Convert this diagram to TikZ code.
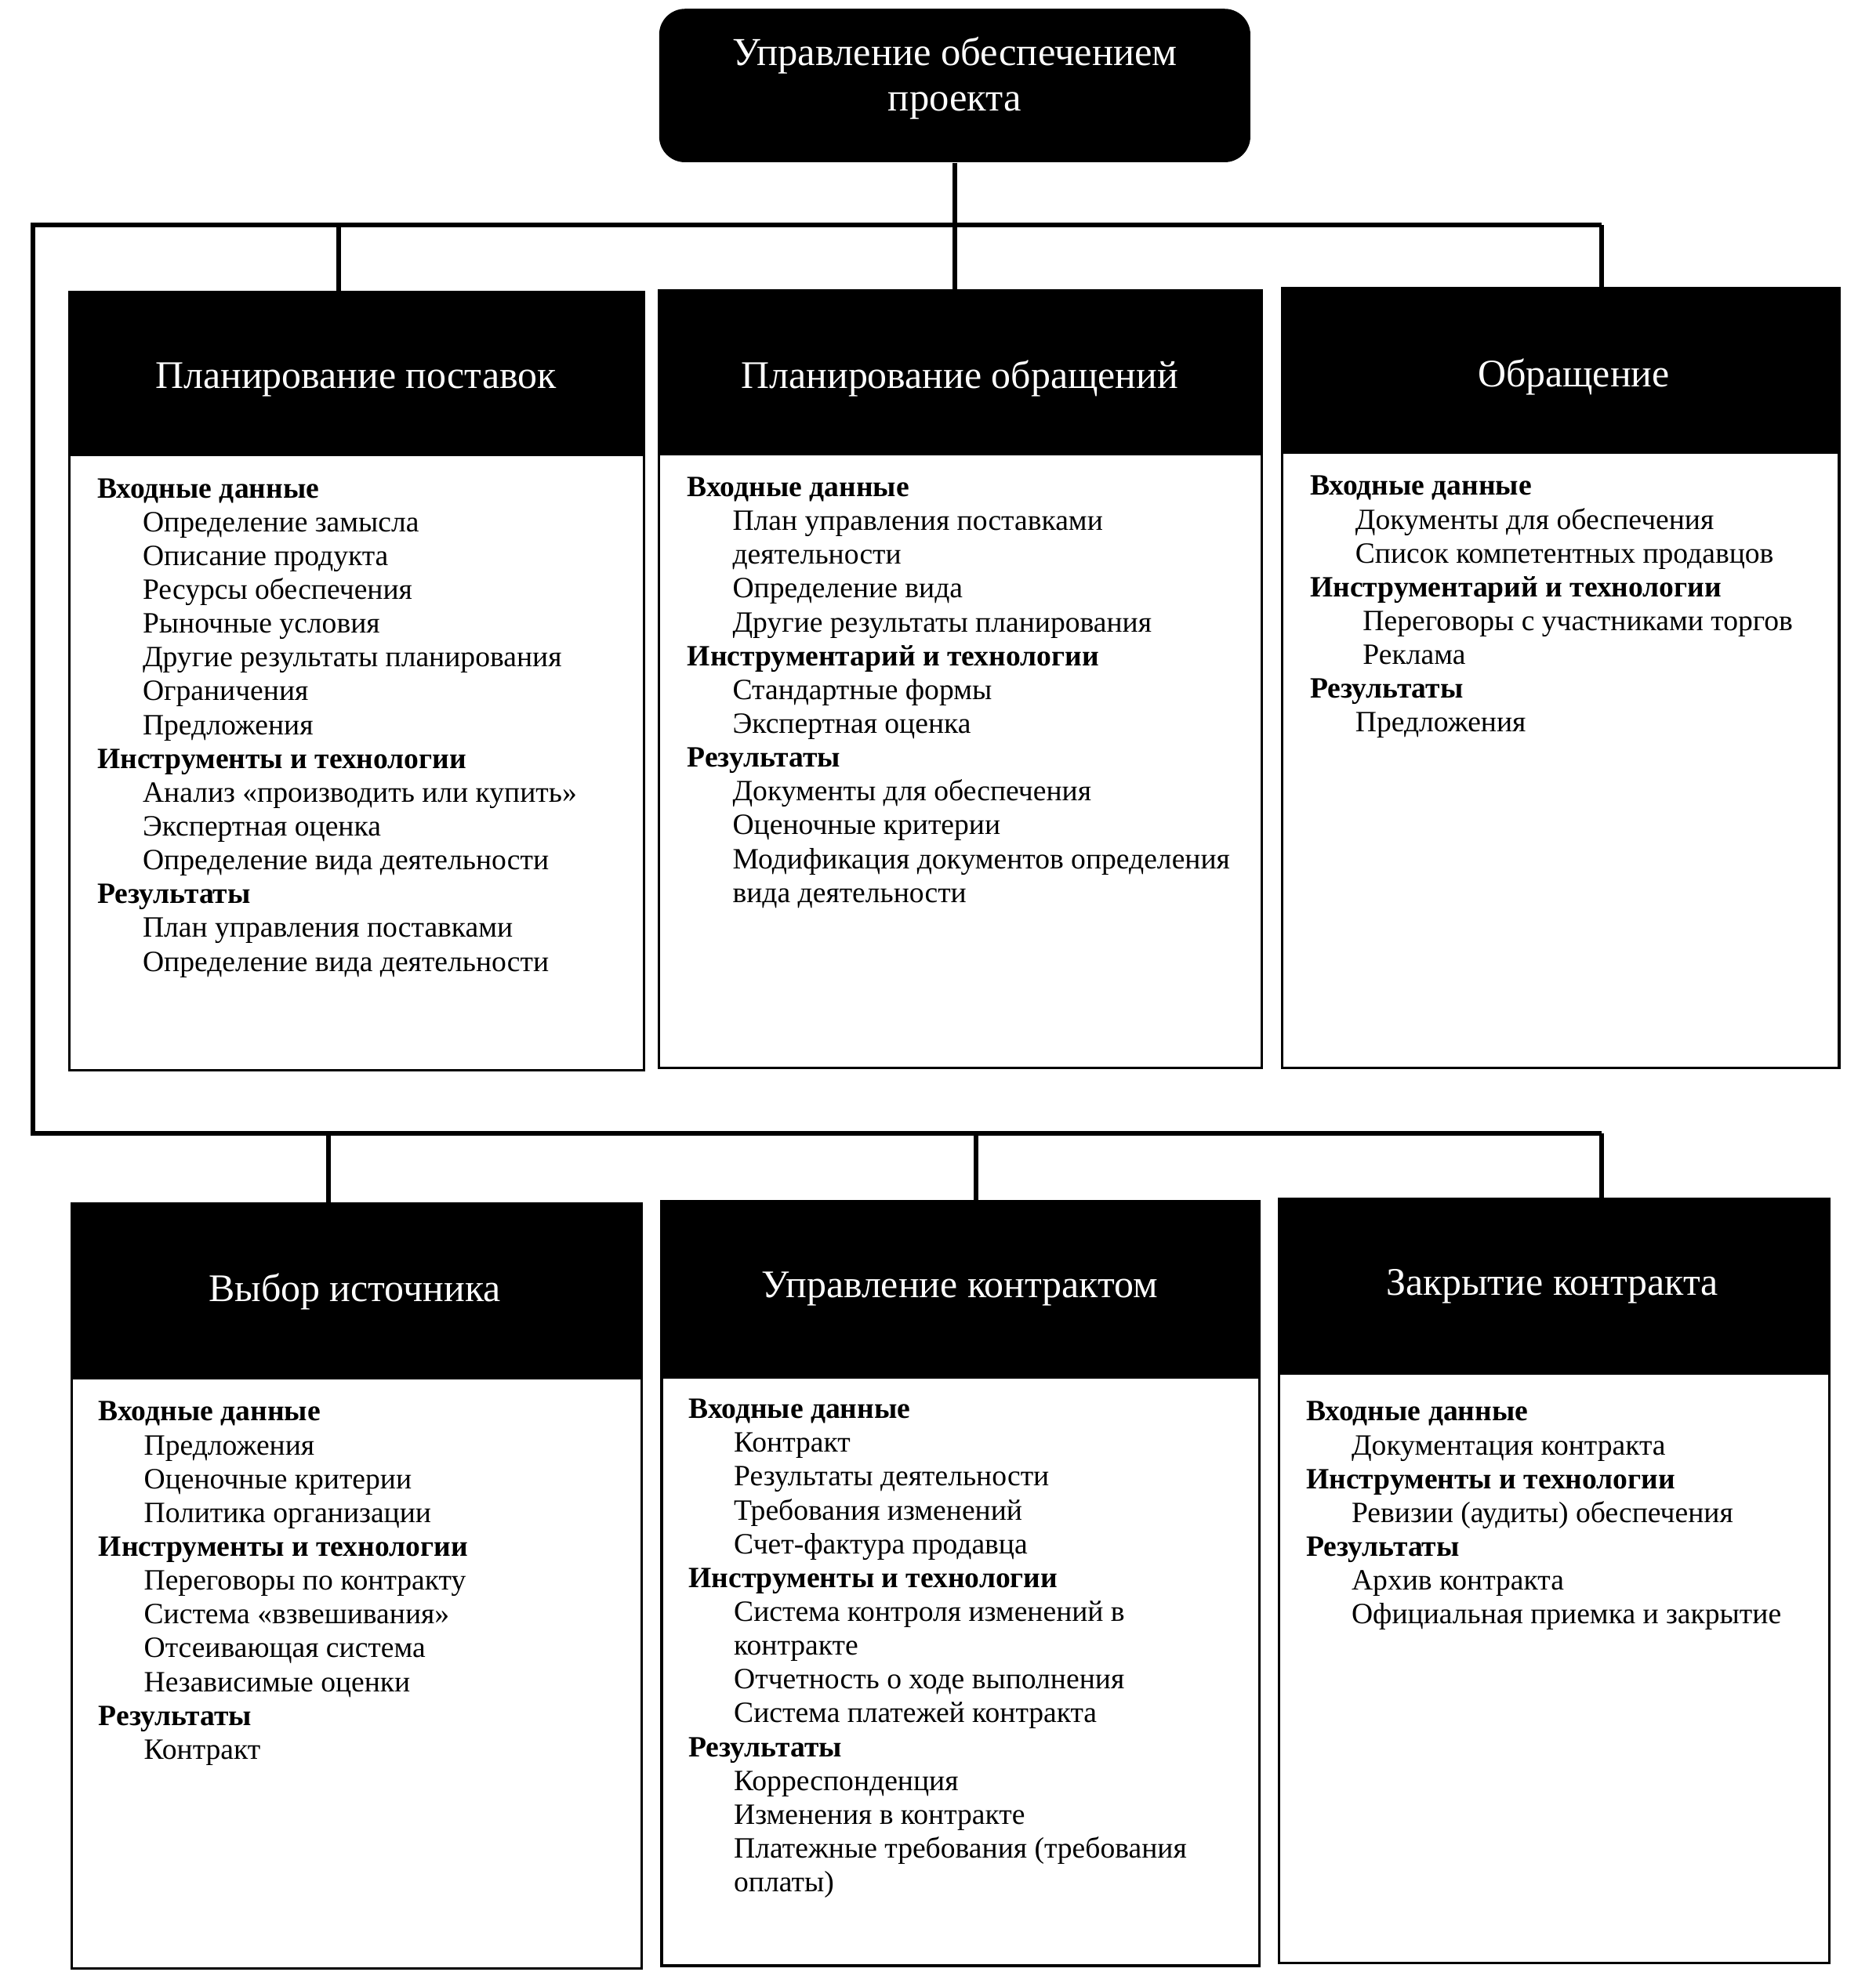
\documentclass[tikz,border=0pt]{standalone}
\usepackage{fontspec}
\setmainfont{Liberation Serif}
\usetikzlibrary{fit}
\newcommand{\indentitem}{\hspace*{0.578cm}}
\newcommand{\indentmore}{\hspace*{0.674cm}}
\tikzset{
  conn/.style={line width=1.7pt},
  frame/.style={draw, line width=0.9pt, inner sep=0pt},
  hdr/.style={fill=black, inner sep=0pt},
  title/.style={text=white, inner sep=0pt, font=\fontsize{14.2}{17}\selectfont},
  body/.style={anchor=north west, align=left, inner sep=0pt, font=\fontsize{10.7}{12.28}\selectfont},
}
\begin{document}
\begin{tikzpicture}[x=0.01605cm, y=-0.01605cm]
\useasboundingbox (0,0) rectangle (1491,1568);
% top
\node[fill=black, rounded corners=0.33cm, inner sep=0pt, fit={(524,7)(994,129)}] (top) {};
\node[text=white, align=center, font=\fontsize{14.4}{16.4}\selectfont] (toptxt) at (759,62) {Управление обеспечением\\проекта};

% boxes row 1
\node[frame, fit={(55,232)(512,851)}] (b1) {};
\node[hdr, fit={(55,232)(512,363)}] (h1) {};
\node[title] (n1) at (283,302) {Планирование поставок};
\node[frame, fit={(524,231)(1003,849)}] (b2) {};
\node[hdr, fit={(524,231)(1003,362)}] (h2) {};
\node[title] (n2) at (763,301) {Планирование обращений};
\node[frame, fit={(1019,229)(1462,849)}] (b3) {};
\node[hdr, fit={(1019,229)(1462,361)}] (h3) {};
\node[title] (n3) at (1251,300) {Обращение};
% boxes row 2
\node[frame, fit={(57,957)(510,1565)}] (b4) {};
\node[hdr, fit={(57,957)(510,1097)}] (h4) {};
\node[title] (n4) at (282,1027) {Выбор источника};
\node[frame, fit={(526,955)(1001,1563)}] (b5) {};
\node[hdr, fit={(526,955)(1001,1096)}] (h5) {};
\node[title] (n5) at (763,1025) {Управление контрактом};
\node[frame, fit={(1017,953)(1454,1561)}] (b6) {};
\node[hdr, fit={(1017,953)(1454,1093)}] (h6) {};
\node[title] (n6) at (1234,1023) {Закрытие контракта};

% connectors
\coordinate (jL) at (26,179);
\coordinate (j0) at (759,179);
\coordinate (j1) at (269,179);
\coordinate (jR) at (1273,179);
\coordinate (kL) at (26,901);
\coordinate (k4) at (261,901);
\coordinate (k5) at (776,901);
\coordinate (kR) at (1273,901);
\draw[conn] (top.south) -- (j0);
\draw[conn] (jR) -- (jL) -- (kL) -- (kR);
\draw[conn] (j1) -- (j1 |- h1.north);
\draw[conn] (j0) -- (j0 |- h2.north);
\draw[conn] (jR) -- (jR |- h3.north);
\draw[conn] (k4) -- (k4 |- h4.north);
\draw[conn] (k5) -- (k5 |- h5.north);
\draw[conn] (kR) -- (kR |- h6.north);

% body texts
\node[body] (t1) at (77,380) {\textbf{Входные данные}\\
\indentitem Определение замысла\\
\indentitem Описание продукта\\
\indentitem Ресурсы обеспечения\\
\indentitem Рыночные условия\\
\indentitem Другие результаты планирования\\
\indentitem Ограничения\\
\indentitem Предложения\\
\textbf{Инструменты и технологии}\\
\indentitem Анализ «производить или купить»\\
\indentitem Экспертная оценка\\
\indentitem Определение вида деятельности\\
\textbf{Результаты}\\
\indentitem План управления поставками\\
\indentitem Определение вида деятельности};

\node[body] (t2) at (546,379) {\textbf{Входные данные}\\
\indentitem План управления поставками\\
\indentitem деятельности\\
\indentitem Определение вида\\
\indentitem Другие результаты планирования\\
\textbf{Инструментарий и технологии}\\
\indentitem Стандартные формы\\
\indentitem Экспертная оценка\\
\textbf{Результаты}\\
\indentitem Документы для обеспечения\\
\indentitem Оценочные критерии\\
\indentitem Модификация документов определения\\
\indentitem вида деятельности};

\node[body] (t3) at (1041,378) {\textbf{Входные данные}\\
\indentitem Документы для обеспечения\\
\indentitem Список компетентных продавцов\\
\textbf{Инструментарий и технологии}\\
\indentmore Переговоры с участниками торгов\\
\indentmore Реклама\\
\textbf{Результаты}\\
\indentitem Предложения};

\node[body] (t4) at (78,1114) {\textbf{Входные данные}\\
\indentitem Предложения\\
\indentitem Оценочные критерии\\
\indentitem Политика организации\\
\textbf{Инструменты и технологии}\\
\indentitem Переговоры по контракту\\
\indentitem Система «взвешивания»\\
\indentitem Отсеивающая система\\
\indentitem Независимые оценки\\
\textbf{Результаты}\\
\indentitem Контракт};

\node[body] (t5) at (547,1112) {\textbf{Входные данные}\\
\indentitem Контракт\\
\indentitem Результаты деятельности\\
\indentitem Требования изменений\\
\indentitem Счет-фактура продавца\\
\textbf{Инструменты и технологии}\\
\indentitem Система контроля изменений в\\
\indentitem контракте\\
\indentitem Отчетность о ходе выполнения\\
\indentitem Система платежей контракта\\
\textbf{Результаты}\\
\indentitem Корреспонденция\\
\indentitem Изменения в контракте\\
\indentitem Платежные требования (требования\\
\indentitem оплаты)};

\node[body] (t6) at (1038,1114) {\textbf{Входные данные}\\
\indentitem Документация контракта\\
\textbf{Инструменты и технологии}\\
\indentitem Ревизии (аудиты) обеспечения\\
\textbf{Результаты}\\
\indentitem Архив контракта\\
\indentitem Официальная приемка и закрытие};
\end{tikzpicture}
\end{document}
